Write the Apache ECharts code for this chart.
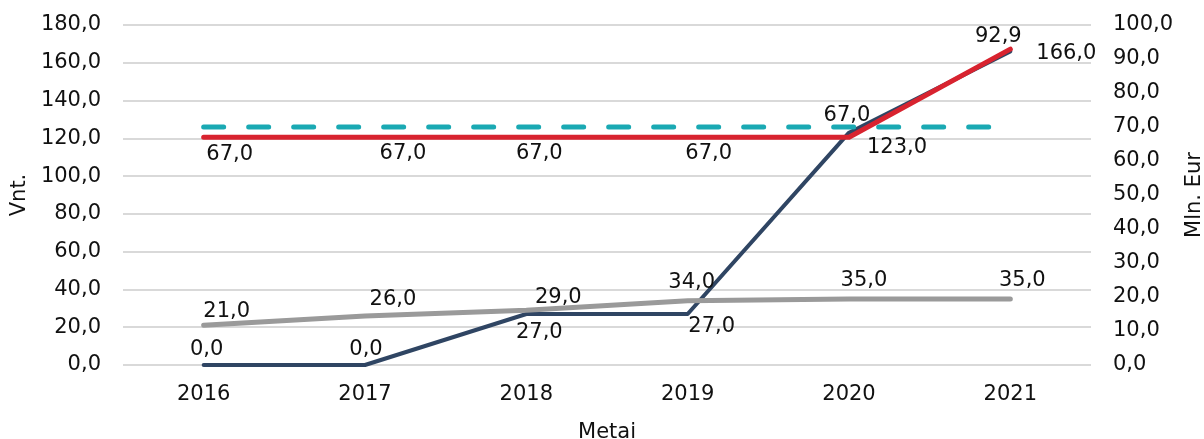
<!DOCTYPE html>
<html>
<head>
<meta charset="utf-8">
<script src="https://cdn.jsdelivr.net/npm/echarts@6/dist/echarts.min.js"></script>
<style>
  html, body { margin: 0; padding: 0; background: #fff; }
  #chart { width: 1204px; height: 439px; }
</style>
</head>
<body>
<div id="chart"></div>
<script>
// Years on the category axis
const years = ['2016', '2017', '2018', '2019', '2020', '2021'];

// Left axis (Vnt.)
const countNavy = [0, 0, 27, 27, 123, 166];
const countGray = [21, 26, 29, 34, 35, 35];

// Right axis (Mln. Eur)
const eurRed = [67, 67, 67, 67, 67, 92.9];
const eurTarget = [70, 70, 70, 70, 70, 70];

// Axis ranges
const leftAxis = { min: 0, max: 180, step: 20 };
const rightAxis = { min: 0, max: 100, step: 10 };

const FONT = 'DejaVu Sans';
const FS = 21;
const fmt = v => v.toFixed(1).replace('.', ',');

// Label nudges (x, y in px) for each point of the labelled series
const navyShift = [[3, -15], [1, -15], [13, 19], [24, 13], [48, 15], [56, 2]];
const grayShift = [[23, -14], [28, -16], [32, -13], [4, -18], [15, -18], [12, -18]];
const redShift = [[26, 17], [38, 16], [13, 16], [21, 16], [-2, -22], [-12, -13]];

const SYM = 2; // marker size; labels are placed relative to its box corner

function withLabels(values, shifts) {
  return values.map((v, i) => ({
    value: v,
    label: {
      show: true,
      position: [shifts[i][0] + SYM / 2, shifts[i][1] + SYM / 2],
      align: 'center',
      verticalAlign: 'middle'
    }
  }));
}

const textStyle = { fontFamily: FONT, fontSize: FS, color: '#111' };

// point markers are transparent; they only anchor the value labels
function labelledLine(extra) {
  return Object.assign({
    type: 'line',
    symbol: 'circle',
    symbolSize: SYM,
    showSymbol: true,
    itemStyle: { color: 'rgba(0,0,0,0)', borderWidth: 0 },
    label: {
      show: true,
      formatter: p => fmt(p.value),
      color: '#111',
      fontFamily: FONT,
      fontSize: FS
    },
    labelLayout: { hideOverlap: false }
  }, extra);
}

const chart = echarts.init(document.getElementById('chart'), null, { renderer: 'canvas' });
chart.setOption({
  animation: false,
  backgroundColor: '#fff',
  grid: { left: 123, right: 113, top: 25, bottom: 74, containLabel: false, outerBoundsMode: 'none' },
  xAxis: {
    type: 'category',
    data: years,
    boundaryGap: true,
    name: 'Metai',
    nameLocation: 'middle',
    nameGap: 57,
    nameTextStyle: textStyle,
    axisLine: { show: false },
    axisTick: { show: false },
    axisLabel: Object.assign({ margin: 19 }, textStyle),
    splitLine: { show: false }
  },
  yAxis: [
    {
      type: 'value',
      min: leftAxis.min,
      max: leftAxis.max,
      interval: leftAxis.step,
      name: 'Vnt.',
      nameLocation: 'middle',
      nameGap: 88,
      nameRotate: 90,
      nameTextStyle: textStyle,
      axisLine: { show: false },
      axisTick: { show: false },
      axisLabel: Object.assign({ margin: 22, formatter: v => fmt(v) }, textStyle),
      splitLine: { show: true, lineStyle: { color: '#d9d9d9', width: 2 } }
    },
    {
      type: 'value',
      position: 'right',
      min: rightAxis.min,
      max: rightAxis.max,
      interval: rightAxis.step,
      name: 'Mln. Eur',
      nameLocation: 'middle',
      nameGap: 88,
      nameRotate: 90,
      nameTextStyle: textStyle,
      axisLine: { show: false },
      axisTick: { show: false },
      axisLabel: Object.assign({ margin: 22, formatter: v => fmt(v) }, textStyle),
      splitLine: { show: false }
    }
  ],
  series: [
    labelledLine({
      name: 'navy',
      yAxisIndex: 0,
      data: withLabels(countNavy, navyShift),
      lineStyle: { color: '#2f4563', width: 4, cap: 'round', join: 'round' },
      z: 2
    }),
    labelledLine({
      name: 'gray',
      yAxisIndex: 0,
      data: withLabels(countGray, grayShift),
      lineStyle: { color: '#9a9a9a', width: 5, cap: 'round', join: 'round' },
      z: 3
    }),
    {
      name: 'target',
      type: 'line',
      yAxisIndex: 1,
      data: eurTarget,
      symbol: 'none',
      lineStyle: { color: '#1aa9b3', width: 5, type: [20, 25], cap: 'round' },
      z: 4
    },
    labelledLine({
      name: 'red',
      yAxisIndex: 1,
      data: withLabels(eurRed, redShift),
      lineStyle: { color: '#d8232f', width: 5, cap: 'round', join: 'round' },
      z: 5
    })
  ]
});
</script>
</body>
</html>
